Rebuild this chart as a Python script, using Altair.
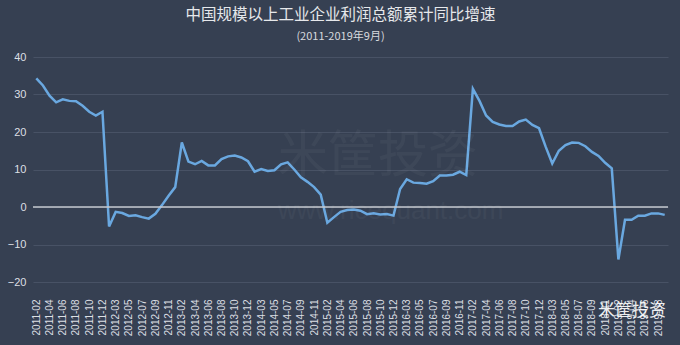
import altair as alt
import pandas as pd

# Months: Jan-Feb merged, so each year starts at -02
years = [2011, 2012, 2013, 2014, 2015, 2016, 2017, 2018]
months = [f"{y}-{m:02d}" for y in years for m in range(2, 13)] + [f"2019-{m:02d}" for m in range(2, 10)]

v2011 = [34.3, 32.4, 29.7, 27.9, 28.7, 28.3, 28.2, 27.0, 25.4, 24.4, 25.4]
v2012 = [-5.2, -1.3, -1.6, -2.4, -2.2, -2.7, -3.1, -1.8, 0.5, 3.0, 5.3]
v2013 = [17.2, 12.1, 11.4, 12.3, 11.1, 11.1, 12.8, 13.5, 13.7, 13.2, 12.2]
v2014 = [9.4, 10.1, 9.6, 9.8, 11.4, 11.9, 10.0, 7.9, 6.7, 5.3, 3.3]
v2015 = [-4.2, -2.7, -1.3, -0.8, -0.7, -1.0, -1.9, -1.7, -2.0, -1.9, -2.3]
v2016 = [4.8, 7.4, 6.5, 6.4, 6.2, 6.9, 8.4, 8.4, 8.6, 9.4, 8.5]
v2017 = [31.5, 28.3, 24.4, 22.7, 22.0, 21.6, 21.6, 22.8, 23.3, 21.9, 21.0]
v2018 = [16.1, 11.6, 15.0, 16.5, 17.2, 17.1, 16.2, 14.7, 13.6, 11.8, 10.3]
v2019 = [-14.0, -3.4, -3.4, -2.3, -2.3, -1.7, -1.7, -2.1]
values = v2011 + v2012 + v2013 + v2014 + v2015 + v2016 + v2017 + v2018 + v2019

label_months = months[0::2]
y_ticks = [-20, -10, 0, 10, 20, 30, 40]

df = pd.DataFrame({"month": months, "value": values})

BG = "#364052"
TXT = "#dcdfe4"

x_enc = alt.X(
    "month:O",
    sort=months,
    scale=alt.Scale(type="point", padding=0.5),
    axis=alt.Axis(
        values=label_months, labelAngle=-90, title=None, grid=False, domain=False,
        ticks=False, labelPadding=17, labelFontSize=10, labelColor=TXT,
        labelFont="Liberation Sans", labelOverlap=False,
    ),
)
y_enc = alt.Y(
    "value:Q",
    scale=alt.Scale(domain=[-20, 40], nice=False, zero=False),
    axis=alt.Axis(
        values=y_ticks, title=None, domain=False, ticks=False, grid=True,
        gridColor="#485265", gridWidth=1, labelPadding=7, labelFontSize=11,
        labelColor=TXT, labelFont="Liberation Sans", labelOverlap=False,
    ),
)

line = alt.Chart(df).mark_line(color="#6aa8e0", strokeWidth=2.5).encode(x=x_enc, y=y_enc)

zero = alt.Chart(pd.DataFrame({"value": [0]})).mark_rule(color="#c5c9cf", strokeWidth=1.5).encode(y=y_enc)

wm = pd.DataFrame({"t": ["米筐投资"]})
wm_big = alt.Chart(wm).mark_text(
    font="Noto Sans CJK SC", fontSize=50, color="#ffffff", opacity=0.035, align="left", baseline="middle"
).encode(text="t:N", x=alt.value(245), y=alt.value(100))
wm_url = alt.Chart(pd.DataFrame({"t": ["www.ricequant.com"]})).mark_text(
    font="Liberation Sans", fontSize=26, color="#ffffff", opacity=0.035, align="left", baseline="middle"
).encode(text="t:N", x=alt.value(245), y=alt.value(154))
wm_br = alt.Chart(wm).mark_text(
    font="Noto Sans CJK SC", fontSize=17, color="#ffffff", opacity=0.9, align="left", baseline="middle"
).encode(text="t:N", x=alt.value(565), y=alt.value(254))

chart = (
    alt.layer(line, zero, wm_big, wm_url, wm_br)
    .properties(
        width=635,
        height=225,
        background=BG,
        padding={"left": 33, "top": 57, "right": 12, "bottom": 63},
        autosize=alt.AutoSizeParams(type="none"),
        title=alt.TitleParams(
            text="中国规模以上工业企业利润总额累计同比增速",
            subtitle="(2011-2019年9月)",
            anchor="middle",
            dx=-10,
            offset=9,
            font="Noto Sans CJK SC",
            fontSize=15.5,
            fontWeight="normal",
            color="#e6e8eb",
            subtitleFont="Noto Sans CJK SC",
            subtitleFontSize=11,
            subtitleColor="#d6d9de",
            subtitlePadding=8,
        ),
    )
    .configure_view(stroke=None)
)

chart.save("out.html", embed_options={"renderer": "svg", "actions": False})
